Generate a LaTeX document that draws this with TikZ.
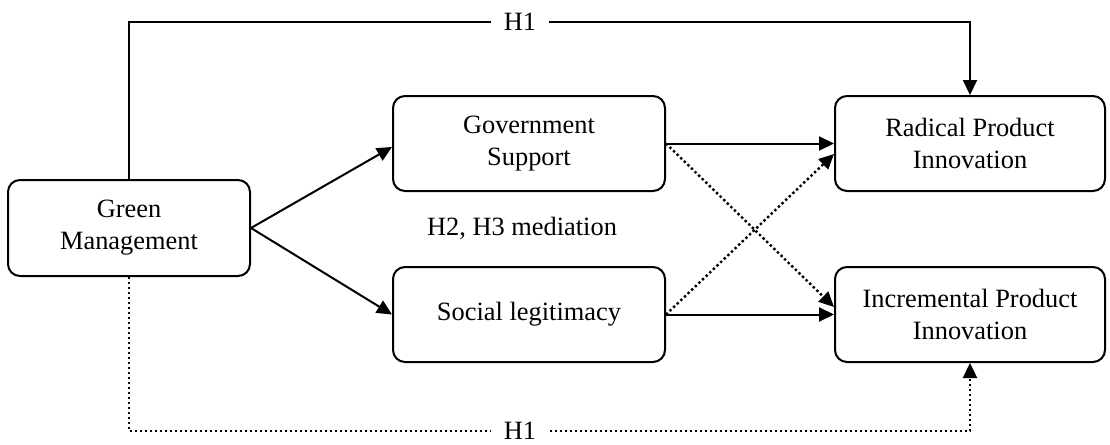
\documentclass[tikz,border=0pt]{standalone}
\usepackage{fontspec}
\setmainfont{Liberation Serif}
\usetikzlibrary{arrows.meta, positioning}
\tikzstyle{bx} = [rectangle, draw, line width=1pt, rounded corners=6pt, align=center, text centered, minimum height=47.5pt, font=\fontsize{13.2}{16}\selectfont]
\tikzstyle{ln} = [line width=1pt, -{Triangle[length=7.5pt, width=7pt]}]
\tikzstyle{dt} = [ln, line width=1.2pt, dash pattern=on 1.2pt off 1.3pt]
\tikzstyle{hl} = [fill=white, inner xsep=6.5pt, inner ysep=1pt, font=\fontsize{13.2}{16}\selectfont]

\begin{document}
\begin{tikzpicture}[x=0.5pt, y=-0.5pt]
	\useasboundingbox (0,0) rectangle (1110,445);
	\node [bx, minimum width=121pt, minimum height=48pt] (gm) at (129,228) {Green\\Management};
	\node [bx, minimum width=136pt] (gs) at (529,143.5) {Government\\Support};
	\node [bx, minimum width=136pt, below=37pt of gs] (sl) {Social legitimacy};
	\node [bx, minimum width=135pt, right=84pt of gs] (rp) {Radical Product\\Innovation};
	\node [bx, minimum width=135pt, below=37pt of rp] (ip) {Incremental Product\\Innovation};
	\node [font=\fontsize{13.2}{16}\selectfont] (med) at (522,228) {H2, H3 mediation};
	\coordinate (top) at (0,22);
	\coordinate (bot) at (0,431);
	% mediators
	\draw [ln] (gm.east) -- ([yshift=-1.75pt]gs.west);
	\draw [ln] (gm.east) -- (sl.west);
	\draw [ln] (gs.east) -- (rp.west);
	\draw [ln] (sl.east) -- (ip.west);
	\draw [dt] (gs.east) -- ([yshift=3.75pt]ip.west);
	\draw [dt] (sl.east) -- ([yshift=-5.25pt]rp.west);
	% direct effects
	\draw [ln] (gm.north) -- (gm.north |- top) -- node [hl, pos=0.465] {H1} (rp.north |- top) -- (rp.north);
	\draw [dt] (gm.south) -- (gm.south |- bot) -- node [hl, pos=0.465] {H1} (ip.south |- bot) -- (ip.south);
\end{tikzpicture}
\end{document}
